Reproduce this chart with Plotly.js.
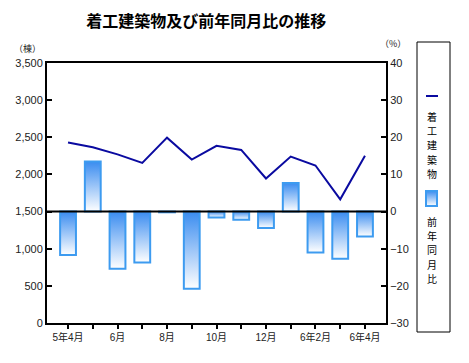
<!DOCTYPE html>
<html>
<head>
<meta charset="utf-8">
<script src="https://cdn.plot.ly/plotly-3.0.1.min.js"></script>
<style>
html,body{margin:0;padding:0;background:#fff;}
#chart{width:469px;height:363px;}
</style>
</head>
<body>
<div id="chart"></div>
<script>
// ---- data ----
var months = ['5年4月','5年5月','5年6月','5年7月','5年8月','5年9月','5年10月','5年11月','5年12月','6年1月','6年2月','6年3月','6年4月'];
var tickLabels = ['5年4月','','6月','','8月','','10月','','12月','','6年2月','','6年4月'];
var buildings = [2430, 2365, 2270, 2155, 2495, 2200, 2385, 2330, 1945, 2240, 2120, 1665, 2250];
var yoyPct = [-11.7, 13.5, -15.4, -13.7, -0.2, -20.8, -1.6, -2.2, -4.4, 7.7, -11.0, -12.7, -6.7];
var lineName = '着工建築物';
var barName = '前年同月比';
var leftTicks = [0,500,1000,1500,2000,2500,3000,3500];
var rightTicks = [-30,-20,-10,0,10,20,30,40];

var tickFont = {family:'Liberation Sans, Arial, sans-serif', size:11, color:'#222'};
var cjk = 'Noto Sans CJK JP, sans-serif';

var traces = [
  {
    type:'bar', x:months, y:yoyPct, yaxis:'y2', name:barName,
    width:0.64,
    marker:{color:'#7fb8f5', line:{color:'#3d9bf0', width:2}},
    hoverinfo:'none'
  },
  {
    type:'scatter', mode:'lines', x:months, y:buildings, yaxis:'y', name:lineName,
    line:{color:'#0a0aa0', width:2},
    hoverinfo:'none'
  }
];

function px2x(px){ return (px-47)/339; }
function px2y(py){ return (323-py)/260; }

var annotations = [
  {text:'（棟）', xref:'paper', yref:'paper', x:px2x(27), y:px2y(48), xanchor:'center', yanchor:'middle',
   showarrow:false, font:{family:cjk, size:9, color:'#222'}},
  {text:'（%）', xref:'paper', yref:'paper', x:px2x(393), y:px2y(43), xanchor:'center', yanchor:'middle',
   showarrow:false, font:{family:cjk, size:9, color:'#222'}}
];
function vertText(s, topPx){
  s.split('').forEach(function(ch, i){
    annotations.push({text:ch, xref:'paper', yref:'paper', x:px2x(432), y:px2y(topPx + 14.2*i + 6.5),
      xanchor:'center', yanchor:'middle', showarrow:false, borderpad:0,
      font:{family:cjk, size:10, color:'#000'}});
  });
}
vertText(lineName, 110);
vertText(barName, 215);

var layout = {
  width:469, height:363,
  margin:{l:47, r:83, t:63, b:40},
  paper_bgcolor:'#fff', plot_bgcolor:'#fff',
  showlegend:false,
  title:{text:'着工建築物及び前年同月比の推移', x:0.44, xanchor:'center', y:0.94, yanchor:'middle',
         font:{family:cjk, size:16, color:'#000', weight:'bold'}},
  xaxis:{
    type:'category', range:[-0.85, 12.85],
    tickmode:'array', tickvals:months, ticktext:tickLabels,
    ticks:'outside', ticklen:4, tickwidth:2, tickcolor:'#000',
    showline:true, linecolor:'#000', linewidth:2, mirror:true,
    showgrid:false, zeroline:false,
    tickfont:{family:'Liberation Sans, Arial, '+cjk, size:10, color:'#222'}
  },
  yaxis:{
    range:[0,3500], tickvals:leftTicks, tickformat:',d',
    ticks:'inside', ticklen:5, tickwidth:2, tickcolor:'#000',
    showline:true, linecolor:'#000', linewidth:2,
    showgrid:false, zeroline:false, tickfont:tickFont
  },
  yaxis2:{
    overlaying:'y', side:'right', range:[-30,40], tickvals:rightTicks,
    ticks:'inside', ticklen:5, tickwidth:2, tickcolor:'#000',
    showline:true, linecolor:'#000', linewidth:2,
    showgrid:false, zeroline:false, tickfont:tickFont
  },
  shapes:[
    {type:'line', xref:'paper', x0:0, x1:1, yref:'y2', y0:0, y1:0, line:{color:'#000', width:2}, layer:'above'},
    {type:'rect', xref:'paper', yref:'paper', x0:px2x(417), x1:px2x(450), y0:px2y(332), y1:px2y(42),
     line:{color:'#000', width:1}, fillcolor:'rgba(0,0,0,0)'},
    {type:'line', xref:'paper', yref:'paper', x0:px2x(426), x1:px2x(438), y0:px2y(96), y1:px2y(96),
     line:{color:'#0a0aa0', width:2}},
    {type:'rect', xref:'paper', yref:'paper', x0:px2x(426), x1:px2x(437), y0:px2y(206), y1:px2y(191),
     line:{color:'#3d9bf0', width:2}, fillcolor:'#7fb8f5'}
  ],
  annotations:annotations
};

function applyGradient(){
  var gd = document.getElementById('chart');
  var svg = gd.querySelector('svg.main-svg');
  if(!svg) return;
  var defs = svg.querySelector('defs');
  if(!defs){ defs = document.createElementNS('http://www.w3.org/2000/svg','defs'); svg.insertBefore(defs, svg.firstChild); }
  if(!document.getElementById('barGrad')){
    var lg = document.createElementNS('http://www.w3.org/2000/svg','linearGradient');
    lg.setAttribute('id','barGrad'); lg.setAttribute('x1','0'); lg.setAttribute('y1','0'); lg.setAttribute('x2','0'); lg.setAttribute('y2','1');
    [['0','#3a8cf0'],['1','#ffffff']].forEach(function(s){
      var st = document.createElementNS('http://www.w3.org/2000/svg','stop');
      st.setAttribute('offset', s[0]); st.setAttribute('stop-color', s[1]);
      lg.appendChild(st);
    });
    defs.appendChild(lg);
  }
  gd.querySelectorAll('.barlayer .point path').forEach(function(p){ p.style.fill = 'url(#barGrad)'; });
  gd.querySelectorAll('.shapelayer path[data-index="3"]').forEach(function(p){ p.style.fill = 'url(#barGrad)'; });
}

Plotly.newPlot('chart', traces, layout, {staticPlot:true, displayModeBar:false}).then(function(gd){
  applyGradient();
  gd.on('plotly_afterplot', applyGradient);
});
</script>
</body>
</html>
